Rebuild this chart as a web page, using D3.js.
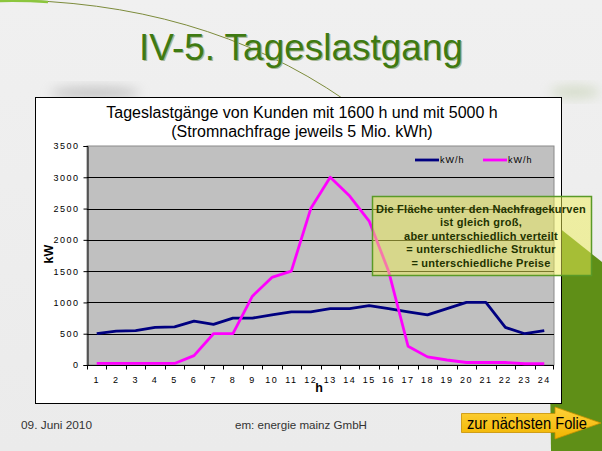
<!DOCTYPE html>
<html><head><meta charset="utf-8">
<script src="https://cdn.jsdelivr.net/npm/d3@7"></script>
<style>
html,body{margin:0;padding:0;background:#eeeeee;overflow:hidden}
svg{display:block}
text{font-family:"Liberation Sans",Arial,Helvetica,sans-serif}
</style>
</head><body><svg id="c" width="602" height="451"></svg>
<script>
// ---- data ----
const hours = [1,2,3,4,5,6,7,8,9,10,11,12,13,14,15,16,17,18,19,20,21,22,23,24];
const load5000 = [500,540,550,600,610,700,650,750,750,800,850,850,900,900,950,900,850,800,900,1000,1000,600,500,550];
const load1600 = [25,25,25,25,25,150,500,500,1100,1400,1500,2500,3000,2700,2300,1500,300,130,80,40,40,40,20,20];
const seriesNames = ["kW/h","kW/h"];
const seriesColors = ["#000080","#ff00ff"];
const yTicks = [0,500,1000,1500,2000,2500,3000,3500];
const slideTitle = "IV-5. Tageslastgang";
const chartTitle = ["Tageslastgänge von Kunden mit 1600 h und mit 5000 h","(Stromnachfrage jeweils 5 Mio. kWh)"];
const calloutLines = ["Die Fläche unter den Nachfragekurven","ist gleich groß,","aber unterschiedlich verteilt","= unterschiedliche Struktur","= unterschiedliche Preise"];
const footerDate = "09. Juni 2010";
const footerCompany = "em: energie mainz GmbH";
const buttonLabel = "zur nächsten Folie";

const svg = d3.select("#c");
const defs = svg.append("defs");
defs.append("filter").attr("id","blur").attr("x","-50%").attr("y","-50%").attr("width","200%").attr("height","200%")
  .append("feGaussianBlur").attr("stdDeviation",6);
const bg = defs.append("linearGradient").attr("id","bg").attr("x1",0).attr("y1",0).attr("x2",0).attr("y2",1);
bg.append("stop").attr("offset",0).attr("stop-color","#f0f0f0");
bg.append("stop").attr("offset",1).attr("stop-color","#ebebeb");
const btn = defs.append("linearGradient").attr("id","btn").attr("x1",0).attr("y1",0).attr("x2",0).attr("y2",1);
btn.append("stop").attr("offset",0).attr("stop-color","#ffd23a");
btn.append("stop").attr("offset",1).attr("stop-color","#f0b400");

// background
svg.append("rect").attr("width",602).attr("height",451).attr("fill","url(#bg)");
// soft shadows
svg.append("ellipse").attr("cx",95).attr("cy",93).attr("rx",45).attr("ry",6).attr("fill","#9a9a9a").attr("opacity",0.5).attr("filter","url(#blur)");
svg.append("ellipse").attr("cx",575).attr("cy",92).attr("rx",25).attr("ry",6).attr("fill","#b8c8a0").attr("opacity",0.5).attr("filter","url(#blur)");

// green decoration right
svg.append("path").attr("d","M548,219 L602,262 L602,451 L551,451 Z").attr("fill","#5f8f17");

// decorative curve
svg.append("path").attr("d","M0,0 Q200,0 345,100").attr("fill","none").attr("stroke","#7d8c3c").attr("stroke-width",1);
svg.append("path").attr("d","M0,1 Q25,0.5 48,2").attr("fill","none").attr("stroke","#8cc63e").attr("stroke-width",2.5);

// slide title
svg.append("text").attr("x",139).attr("y",60).attr("font-size",37).attr("fill","#a8b898")
  .attr("textLength",324).attr("lengthAdjust","spacingAndGlyphs").attr("dx",1.2).attr("dy",1.2).text(slideTitle);
svg.append("text").attr("x",139).attr("y",60).attr("font-size",37).attr("fill","#3f7a12")
  .attr("textLength",324).attr("lengthAdjust","spacingAndGlyphs").text(slideTitle);

// white chart box
svg.append("rect").attr("x",35.5).attr("y",97.5).attr("width",526).attr("height",306).attr("fill","#ffffff").attr("stroke","#000").attr("stroke-width",1);

// chart title
svg.selectAll("text.ct").data(chartTitle).enter().append("text").attr("class","ct")
  .attr("x",302).attr("y",(d,i)=>118+i*18.5).attr("text-anchor","middle").attr("font-size",16).attr("fill","#000").text(d=>d);

// scales
const x = d3.scaleBand().domain(hours).range([87,554]).padding(0);
const y = d3.scaleLinear().domain([0,3500]).range([365,146]);

// plot area
svg.append("rect").attr("x",87).attr("y",146).attr("width",467).attr("height",219).attr("fill","#c0c0c0").attr("stroke","#8a8a8a").attr("stroke-width",1);
svg.append("g").selectAll("line").data(yTicks.filter(v=>v>0 && v<3500)).enter().append("line")
  .attr("x1",87).attr("x2",554).attr("y1",d=>Math.round(y(d))+0.5).attr("y2",d=>Math.round(y(d))+0.5)
  .attr("stroke","#000").attr("stroke-width",1);

// y axis
const yAxis = svg.append("g").attr("transform","translate(87.5,0)")
  .call(d3.axisLeft(y).tickValues(yTicks).tickSize(4).tickPadding(4).tickFormat(d3.format("d")));
yAxis.select(".domain").attr("stroke","#000");
yAxis.selectAll("text").attr("font-size",9).attr("letter-spacing",1.5).attr("font-family","Liberation Sans, Arial, sans-serif").attr("fill","#000");

// x axis
const xg = svg.append("g").attr("transform","translate(0,365.5)");
xg.append("line").attr("x1",87).attr("x2",554).attr("stroke","#000");
xg.selectAll("line.tk").data(hours.concat([25])).enter().append("line").attr("class","tk")
  .attr("x1",d=> d<=24 ? Math.round(x(d))+0.5 : 553.5).attr("x2",d=> d<=24 ? Math.round(x(d))+0.5 : 553.5)
  .attr("y1",0).attr("y2",4).attr("stroke","#000");
xg.selectAll("text").data(hours).enter().append("text")
  .attr("x",d=>x(d)+x.bandwidth()/2).attr("y",17.5).attr("text-anchor","middle")
  .attr("font-size",9).attr("letter-spacing",1.5).attr("fill","#000").text(d=>d);

// axis titles
svg.append("text").attr("x",319).attr("y",392).attr("text-anchor","middle").attr("font-size",12.5).attr("font-weight","bold").text("h");
svg.append("text").attr("transform","translate(53,254) rotate(-90)").attr("text-anchor","middle").attr("font-size",12.5).attr("font-weight","bold").text("kW");

// lines
const line = d3.line().x((d,i)=>x(hours[i])+x.bandwidth()/2).y(d=>y(d));
[load5000, load1600].forEach((s,k)=>{
  svg.append("path").datum(s).attr("d",line).attr("fill","none").attr("stroke",seriesColors[k])
    .attr("stroke-width",2.8).attr("stroke-linejoin","round");
});

// legend
const legX = [415, 483];
seriesNames.forEach((n,k)=>{
  svg.append("line").attr("x1",legX[k]).attr("x2",legX[k]+24).attr("y1",160).attr("y2",160).attr("stroke",seriesColors[k]).attr("stroke-width",2.8);
  svg.append("text").attr("x",legX[k]+25).attr("y",163).attr("font-size",9).attr("letter-spacing",1).text(n);
});

// callout
svg.append("rect").attr("x",372.5).attr("y",196.5).attr("width",219).attr("height",79)
  .attr("fill","#eeee55").attr("fill-opacity",0.5).attr("stroke","#5a9a28").attr("stroke-width",1.5);
svg.selectAll("text.co").data(calloutLines).enter().append("text").attr("class","co")
  .attr("x",481).attr("y",(d,i)=>212.5+i*13.5).attr("text-anchor","middle").attr("font-size",11)
  .attr("font-weight","bold").attr("letter-spacing",0.25).attr("fill","#1f3300").text(d=>d);

// footer
svg.append("text").attr("x",21).attr("y",429).attr("font-size",11.5).attr("fill","#333")
  .attr("textLength",71).attr("lengthAdjust","spacingAndGlyphs").text(footerDate);
svg.append("text").attr("x",235).attr("y",429).attr("font-size",11.5).attr("fill","#333")
  .attr("textLength",132).attr("lengthAdjust","spacingAndGlyphs").text(footerCompany);

// next-slide button
svg.append("path").attr("d","M461.5,413.5 L555,413.5 L555,407 L601,423 L555,439 L555,432.5 L461.5,432.5 Z")
  .attr("fill","url(#btn)").attr("stroke","#c89000").attr("stroke-width",0.8);
svg.append("text").attr("x",467).attr("y",428.5).attr("font-size",16.5).attr("fill","#000")
  .attr("textLength",120).attr("lengthAdjust","spacingAndGlyphs").text(buttonLabel);
</script>
</body></html>
